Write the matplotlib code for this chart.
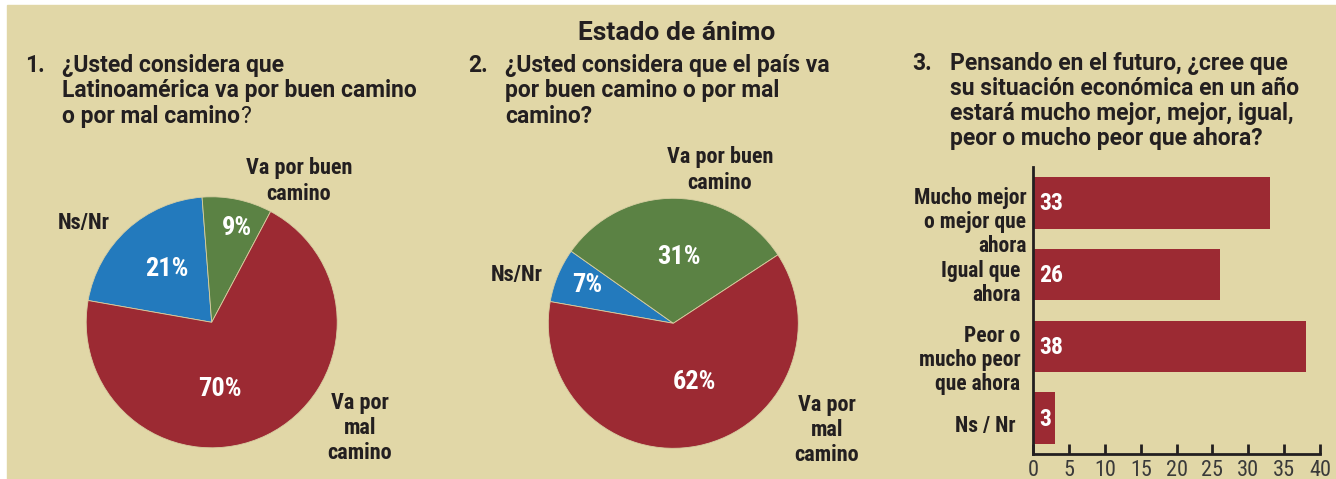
import numpy as np
import matplotlib
matplotlib.use("Agg")
import matplotlib.pyplot as plt
from matplotlib import font_manager
from matplotlib.patches import Rectangle

# ── data ──────────────────────────────────────────────────────────────────────
pie_labels = ["Ns/Nr", "Va por buen\ncamino", "Va por\nmal\ncamino"]
latam_pct = [21, 9, 70]     # 1. Latinoamérica
pais_pct = [7, 31, 62]      # 2. el país

futuro_cats = ["Mucho mejor\no mejor que\nahora", "Igual que\nahora",
               "Peor o\nmucho peor\nque ahora", "Ns / Nr"]
futuro_vals = [33, 26, 38, 3]
x_ticks = [0, 5, 10, 15, 20, 25, 30, 35, 40]

title = "Estado de ánimo"
q1 = ["¿Usted considera que", "Latinoamérica va por buen camino", "o por mal camino"]
q2 = ["¿Usted considera que el país va", "por buen camino o por mal", "camino?"]
q3 = ["Pensando en el futuro, ¿cree que", "su situación económica en un año",
      "estará mucho mejor, mejor, igual,", "peor o mucho peor que ahora?"]

# ── style ─────────────────────────────────────────────────────────────────────
W, H = 1336, 479
BG = "#E1D7A7"
RED = "#9C2A33"
GREEN = "#5B8244"
BLUE = "#237ABD"
INK = "#231F20"
pie_colors = [BLUE, GREEN, RED]

installed = {f.name for f in font_manager.fontManager.ttflist}


def pick(*names):
    return next((n for n in names if n in installed), "DejaVu Sans")


NARROW = pick("Roboto Condensed", "Liberation Sans Narrow", "DejaVu Sans")
WIDE = pick("Roboto", "Liberation Sans", "DejaVu Sans")
plt.rcParams["font.family"] = [NARROW, "DejaVu Sans"]

fig = plt.figure(figsize=(W / 100, H / 100), dpi=100, facecolor="white")

# full-figure canvas in pixel units for the panel and the headings
canvas = fig.add_axes([0, 0, 1, 1])
canvas.set_xlim(0, W)
canvas.set_ylim(H, 0)
canvas.axis("off")
canvas.add_patch(Rectangle((7, 5), W - 7, H - 5, color=BG, zorder=0))

canvas.text(677, 40, title, ha="center", va="baseline", fontsize=19,
            fontweight="bold", color=INK, family=WIDE)


def question(num, lines, xn, xt, y0, step=25.5, tail=None):
    kw = dict(ha="left", va="baseline", fontsize=16.5, fontweight="bold",
              color=INK, family=WIDE)
    canvas.text(xn, y0, num, **kw)
    last = None
    for i, line in enumerate(lines):
        last = canvas.text(xt, y0 + i * step, line, **kw)
    if tail:
        canvas.annotate(tail, xy=(1, 0), xycoords=last, ha="left", va="bottom",
                        fontsize=16.5, color=INK, family=WIDE)


question("1.", q1, 25, 62, 71.5, tail="?")
question("2.", q2, 468, 505, 71.5)
question("3.", q3, 912, 950, 70, step=25)


# ── pies ──────────────────────────────────────────────────────────────────────
def draw_pie(cx, cy, r, values, pct_xy, label_xy):
    ax = fig.add_axes([(cx - r) / W, 1 - (cy + r) / H, 2 * r / W, 2 * r / H])
    ax.pie(values, colors=pie_colors, startangle=170, counterclock=False,
           wedgeprops=dict(edgecolor="#D8CFA2", linewidth=0.6))
    ax.set_xlim(-1, 1)
    ax.set_ylim(-1, 1)
    ax.set_aspect("equal")
    ax.axis("off")
    for v, (px, py) in zip(values, pct_xy):
        ax.text(px, py, f"{v}%", ha="center", va="center", fontsize=19,
                fontweight="bold", color="white")
    for lab, (lx, ly) in zip(pie_labels, label_xy):
        canvas.text(lx, ly, lab, ha="center", va="center", multialignment="center",
                    fontsize=16, fontweight="bold", color=INK, linespacing=1.2)


draw_pie(211.7, 322.3, 125.5, latam_pct,
         [(-0.354, 0.425), (0.199, 0.754), (0.066, -0.531)],
         [(84, 223), (299, 181), (360, 428)])
draw_pie(673.3, 323.3, 125, pais_pct,
         [(-0.688, 0.306), (0.046, 0.533), (0.168, -0.467)],
         [(517, 275), (720, 170), (827, 430)])

# ── bars ──────────────────────────────────────────────────────────────────────
axb = fig.add_axes([1033.3 / W, 1 - 454 / H, 286.7 / W, 287 / H])
axb.set_facecolor("none")
ypos = np.arange(len(futuro_vals))
axb.barh(ypos, futuro_vals, height=0.72, color=RED)
axb.set_xlim(0, 40)
axb.set_ylim(len(futuro_vals) - 0.5, -0.5)
for side in ["top", "right"]:
    axb.spines[side].set_visible(False)
for side in ["left", "bottom"]:
    axb.spines[side].set_linewidth(2)
    axb.spines[side].set_color(INK)
axb.set_xticks(x_ticks)
axb.tick_params(axis="x", direction="in", length=7, width=2, color=INK,
                labelsize=16, labelcolor="#3A3A3A", pad=4)
axb.set_yticks([])

label_nudge = [(-7, 19), (-13, 8), (-13, 14), (-18, 8)]
for i, (cat, v, (dx, dy)) in enumerate(zip(futuro_cats, futuro_vals, label_nudge)):
    axb.annotate(cat, xy=(0, i), xycoords=("axes fraction", "data"),
                 xytext=(dx, -dy), textcoords="offset pixels", ha="right",
                 va="center", multialignment="right", fontsize=15.5,
                 fontweight="bold", color=INK, linespacing=1.12,
                 annotation_clip=False)
    axb.annotate(str(v), xy=(0, i), xytext=(6, -1), textcoords="offset pixels",
                 ha="left", va="center", fontsize=17, fontweight="bold",
                 color="white")

fig.savefig("out.png", dpi=100, facecolor="white")
